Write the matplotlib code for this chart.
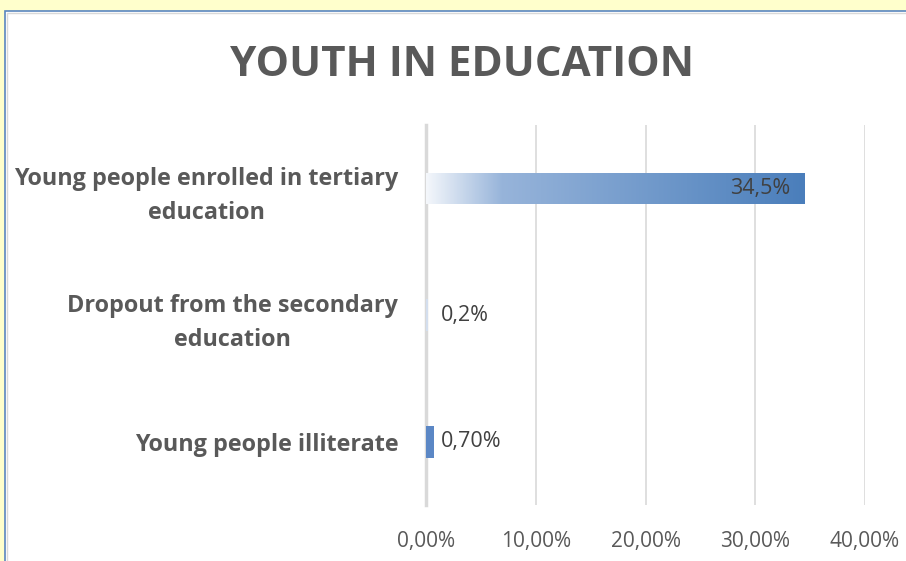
import matplotlib.pyplot as plt
import numpy as np
from matplotlib.colors import LinearSegmentedColormap
from matplotlib.patches import Rectangle

# data
categories = ["Young people enrolled in tertiary\neducation",
              "Dropout from the secondary\neducation",
              "Young people illiterate"]
values = [34.5, 0.2, 0.7]
value_labels = ["34,5%", "0,2%", "0,70%"]
ticks = [0, 10, 20, 30, 40]
tick_labels = ["0,00%", "10,00%", "20,00%", "30,00%", "40,00%"]

label_font = "Open Sans"
grad = LinearSegmentedColormap.from_list(
    "bar", [(0, "#f4f7fb"), (0.2, "#97b4da"), (1.0, "#4a7ebb")])

fig = plt.figure(figsize=(9.06, 5.61), dpi=100)
fig.patch.set_facecolor("#ffffcc")
# white chart area with blue edge (kept behind the axes)
fig.patches.append(Rectangle((5 / 906, -0.01), 1.0, 1 - 11 / 561 + 0.01,
                             transform=fig.transFigure, facecolor="white",
                             edgecolor="#5a86bf", linewidth=1.2, zorder=-10))
fig.patches.append(Rectangle((7 / 906, -0.01), 1.0, 1 - 13 / 561 + 0.01,
                             transform=fig.transFigure, facecolor="none",
                             edgecolor="#d9d9d9", linewidth=1.0, zorder=-9))

ax = fig.add_axes([426 / 906, 1 - 505 / 561, (865 - 426) / 906, (505 - 125) / 561])
ax.set_facecolor("none")

y = np.arange(len(categories))
bar_h = 0.25
bars = ax.barh(y, values, height=bar_h, color="none", edgecolor="none", zorder=3)

# gradient fill for the long bar, flat colours for the tiny ones
small_colors = [None, "#d3deee", "#5b87c5"]
for i, b in enumerate(bars):
    x0, y0 = b.get_x(), b.get_y()
    w, h = b.get_width(), b.get_height()
    if small_colors[i] is None:
        img = ax.imshow(np.linspace(0, 1, 256).reshape(1, -1), cmap=grad,
                        extent=[x0, x0 + w, y0 + h, y0], aspect="auto", zorder=3)
        img.set_clip_path(b)
    else:
        b.set_facecolor(small_colors[i])

ax.set_xlim(0, 40)
ax.set_ylim(2.5, -0.5)

for i, (v, t) in enumerate(zip(values, value_labels)):
    if v > 5:
        ax.text(v - 1.35, i, t, ha="right", va="center", fontsize=15.5,
                color="#404040", family=label_font, zorder=4)
    else:
        ax.text(1.35, i, t, ha="left", va="center", fontsize=15.5,
                color="#404040", family=label_font, zorder=4)

ax.set_xticks(ticks)
ax.set_xticklabels(tick_labels, fontsize=15, color="#595959", family=label_font)
ax.set_yticks(y)
ax.set_yticklabels(categories, fontsize=16.8, fontweight="bold", color="#595959",
                   family=label_font, multialignment="center", linespacing=1.55)
ax.tick_params(axis="both", length=0)
ax.tick_params(axis="y", pad=20)
ax.tick_params(axis="x", pad=19)

ax.grid(axis="x", color="#d9d9d9", linewidth=1.2, zorder=0)
ax.set_axisbelow(True)
for s in ["top", "right", "bottom"]:
    ax.spines[s].set_visible(False)
ax.spines["left"].set_color("#d9d9d9")
ax.spines["left"].set_linewidth(2.5)

fig.text(462 / 906, 1 - 66 / 561, "YOUTH IN EDUCATION", ha="center", va="center",
         fontsize=30.3, fontweight="bold", color="#595959", family=label_font)

fig.savefig("out.png", dpi=100, facecolor=fig.get_facecolor())
